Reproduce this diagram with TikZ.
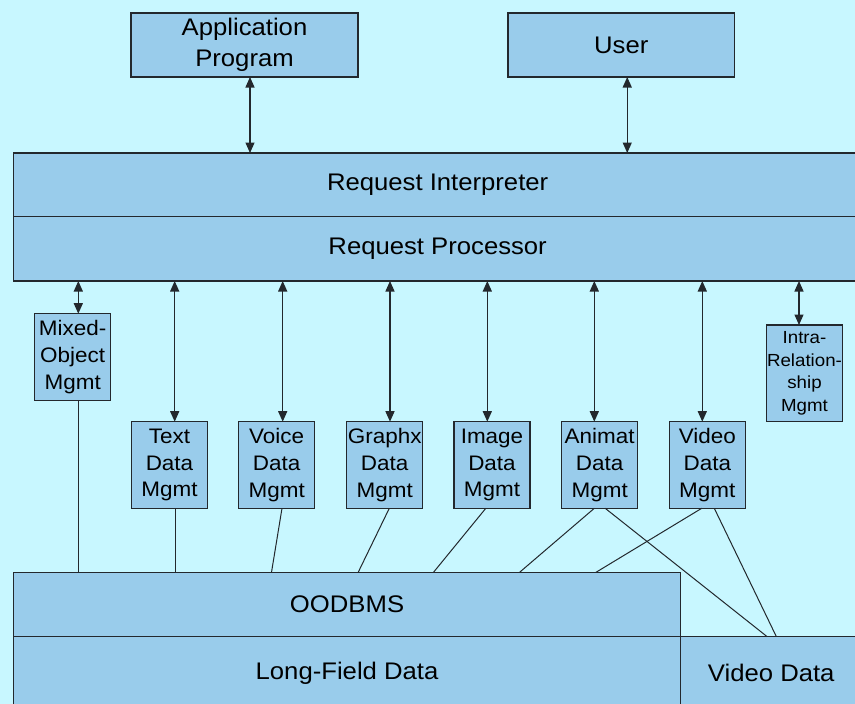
\documentclass[tikz,border=0pt]{standalone}
\usepackage{fontspec}
\setmainfont{Liberation Sans}[FakeStretch=1.07]
\usetikzlibrary{arrows.meta}

\definecolor{bgcyan}{RGB}{200,247,255}
\definecolor{boxblue}{RGB}{153,204,235}
\definecolor{edge}{RGB}{35,40,45}

% \panel{name}{x1}{y1}{x2}{y2}{style}{text}: box spanning the given corners
\newcommand{\panel}[7]{%
  \node[blk,#6,minimum width={#4-#2},minimum height={#5-#3}]
    (#1) at ({(#2+#4)/2},{(#3+#5)/2}) {#7};}

\begin{document}
\begin{tikzpicture}[x=1pt,y=-1pt,
  blk/.style={draw=edge, fill=boxblue, line width=1.4pt, inner sep=0pt,
              outer sep=0pt, align=center},
  bigtxt/.style={font=\fontsize{24}{31}\selectfont},
  smalltxt/.style={font=\fontsize{21}{26.7}\selectfont},
  tinytxt/.style={font=\fontsize{17.5}{22.4}\selectfont},
  biarrow/.style={{Triangle[length=10.5pt,width=9pt]}-{Triangle[length=10.5pt,width=9pt]},
                  line width=1.3pt, draw=edge},
  link/.style={line width=1pt, draw=edge}]

\fill[bgcyan] (0,0) rectangle (855,704);
\useasboundingbox (0,0) rectangle (855,704);

% top level: clients
\panel{app}{131}{13}{358}{77}{bigtxt}{Application\\Program}
\panel{user}{508}{13}{734.5}{77}{bigtxt}{User}

% request layers
\panel{ri}{13.3}{153}{862}{216.5}{bigtxt}{Request Interpreter}
\panel{rp}{13.3}{216.5}{862}{281}{bigtxt}{Request Processor}

% media managers
\panel{mix}{34.7}{313.7}{110.7}{400.7}{smalltxt}{Mixed-\\Object\\Mgmt}
\panel{text}{131.7}{421.7}{207.3}{508.3}{smalltxt}{Text\\Data\\Mgmt}
\panel{voice}{238.7}{421.7}{314.7}{508.3}{smalltxt}{Voice\\Data\\Mgmt}
\panel{graphx}{346.7}{421.7}{422.7}{508.3}{smalltxt}{Graphx\\Data\\Mgmt}
\panel{image}{454}{421.7}{530}{508.3}{smalltxt}{Image\\Data\\Mgmt}
\panel{animat}{561.7}{421.7}{637.7}{508.3}{smalltxt}{Animat\\Data\\Mgmt}
\panel{video}{669.3}{421.7}{745.3}{508.3}{smalltxt}{Video\\Data\\Mgmt}
\panel{intra}{766.7}{325}{842.3}{421.7}{tinytxt}{Intra-\\Relation-\\ship\\Mgmt}

% storage
\panel{oo}{13.6}{572.3}{680.5}{636.7}{bigtxt}{OODBMS}
\panel{lf}{13.6}{636.7}{680.5}{709}{bigtxt}{Long-Field Data}
\panel{vd}{680.5}{636.7}{862}{709}{bigtxt}{Video Data}

% clients <-> interpreter
\draw[biarrow] ([xshift=5.5pt]app.south) -- ([xshift=5.5pt]app.south |- ri.north);
\draw[biarrow] ([xshift=6pt]user.south) -- ([xshift=6pt]user.south |- ri.north);

% processor <-> managers
\foreach \m/\dx in {mix/5.6, text/5.2, voice/6, graphx/5.3, image/-4.7,
                    animat/-5.4, video/-5, intra/-5.5}
  \draw[biarrow] ([xshift=\dx pt]\m.north |- rp.south) -- ([xshift=\dx pt]\m.north);

% managers -- storage
\draw[link] ([xshift=5.8pt]mix.south) -- ([xshift=5.8pt]mix.south |- oo.north);
\draw[link] ([xshift=5.5pt]text.south) -- ([xshift=5.5pt]text.south |- oo.north);
\draw[link] ([xshift=5.3pt]voice.south) -- ([xshift=257.9pt]oo.north west);
\draw[link] ([xshift=4.6pt]graphx.south) -- ([xshift=344.6pt]oo.north west);
\draw[link] ([xshift=-6.2pt]image.south) -- ([xshift=419.9pt]oo.north west);
\draw[link] ([xshift=-5.4pt]animat.south) -- ([xshift=506pt]oo.north west);
\draw[link] ([xshift=5.5pt]animat.south) -- ([xshift=86.7pt]vd.north west);
\draw[link] ([xshift=-5.6pt]video.south) -- ([xshift=582.4pt]oo.north west);
\draw[link] ([xshift=7pt]video.south) -- ([xshift=95.9pt]vd.north west);

\end{tikzpicture}
\end{document}
